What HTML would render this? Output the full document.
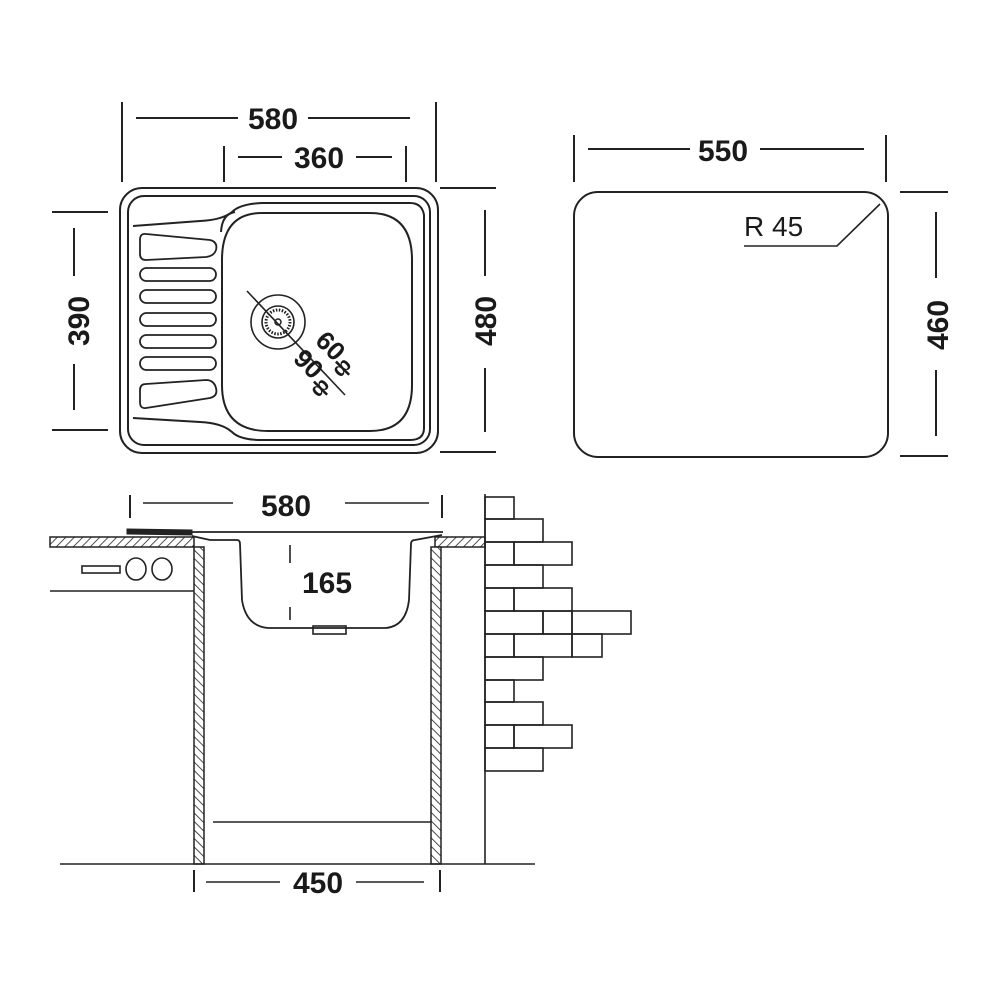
<!DOCTYPE html>
<html><head><meta charset="utf-8"><style>
html,body{margin:0;padding:0;background:#fff}
svg{display:block}
text{font-family:"Liberation Sans",sans-serif;font-weight:bold;fill:#1a1a1a}
</style></head><body>
<svg width="1000" height="1000" viewBox="0 0 1000 1000" xmlns="http://www.w3.org/2000/svg">
<defs>
<pattern id="h1" width="6" height="6" patternUnits="userSpaceOnUse" patternTransform="rotate(45)">
<rect width="6" height="6" fill="#fff"/><line x1="0" y1="0" x2="0" y2="6" stroke="#222" stroke-width="1.6"/></pattern>
<pattern id="h2" width="6" height="6" patternUnits="userSpaceOnUse" patternTransform="rotate(-45)">
<rect width="6" height="6" fill="#fff"/><line x1="0" y1="0" x2="0" y2="6" stroke="#222" stroke-width="1.6"/></pattern>
</defs>
<g stroke="#222" fill="none" stroke-width="2">
<!-- top dims -->
<line x1="122" y1="102" x2="122" y2="182"/><line x1="436" y1="102" x2="436" y2="182"/>
<line x1="136" y1="118" x2="238" y2="118"/><line x1="308" y1="118" x2="410" y2="118"/>
<line x1="224" y1="146" x2="224" y2="182"/><line x1="406" y1="146" x2="406" y2="182"/>
<line x1="238" y1="157" x2="282" y2="157"/><line x1="356" y1="157" x2="392" y2="157"/>
<line x1="52" y1="212" x2="108" y2="212"/><line x1="52" y1="430" x2="108" y2="430"/>
<line x1="74" y1="228" x2="74" y2="276"/><line x1="74" y1="364" x2="74" y2="410"/>
<line x1="440" y1="188" x2="496" y2="188"/><line x1="440" y1="452" x2="496" y2="452"/>
<line x1="485" y1="210" x2="485" y2="276"/><line x1="485" y1="368" x2="485" y2="432"/>
<!-- sink top view -->
<rect x="120" y="188" width="318" height="265" rx="22"/>
<rect x="128" y="196" width="302" height="249" rx="16"/>
<path d="M133 226 L200 221 Q222 220 232 212 Q240 204 262 203 L410 203 Q422 203 424 215 L424 428 Q424 440 410 440 L262 440 Q240 440 232 432 Q222 423 200 422 L133 418"/>
<path d="M235 212 Q222 214 221 232"/>
<path d="M262 213 L370 213 Q412 213 412 260 L412 385 Q412 431 370 431 L268 431 Q222 431 222 385 L222 260 Q222 213 262 213 Z"/>
<path d="M146 234 L210 240 Q218 242 216 250 Q214 256 206 257 L146 260 Q140 260 140 254 L140 240 Q140 233 146 234 Z" stroke-width="1.8"/>
<rect x="140" y="268" width="76" height="13" rx="6.5" stroke-width="1.8"/>
<rect x="140" y="290" width="76" height="13" rx="6.5" stroke-width="1.8"/>
<rect x="140" y="313" width="76" height="13" rx="6.5" stroke-width="1.8"/>
<rect x="140" y="335" width="76" height="13" rx="6.5" stroke-width="1.8"/>
<rect x="140" y="357" width="76" height="13" rx="6.5" stroke-width="1.8"/>
<path d="M146 384 L206 380 Q214 380 216 388 Q218 396 210 398 L146 408 Q140 409 140 402 L140 390 Q140 384 146 384 Z" stroke-width="1.8"/>
<circle cx="278" cy="322" r="27" stroke-width="1.6"/>
<circle cx="278" cy="322" r="16" stroke-width="1.6"/>
<circle cx="278" cy="322" r="12" stroke-width="3" stroke-dasharray="1.5 1.5"/>
<circle cx="278" cy="322" r="3" stroke-width="1.5"/>
<line x1="247" y1="291" x2="345" y2="395" stroke-width="1.6"/>
<!-- right plan -->
<rect x="574" y="192" width="314" height="265" rx="24"/>
<line x1="574" y1="135" x2="574" y2="182"/><line x1="886" y1="135" x2="886" y2="182"/>
<line x1="588" y1="149" x2="690" y2="149"/><line x1="760" y1="149" x2="864" y2="149"/>
<line x1="900" y1="192" x2="948" y2="192"/><line x1="900" y1="456" x2="948" y2="456"/>
<line x1="936" y1="212" x2="936" y2="278"/><line x1="936" y1="370" x2="936" y2="436"/>
<path d="M744 246 L837 246 L880 204" stroke-width="1.6"/>
<!-- side view -->
<line x1="130" y1="495" x2="130" y2="518"/><line x1="442" y1="495" x2="442" y2="518"/>
<line x1="143" y1="503" x2="233" y2="503" stroke-width="1.6"/><line x1="345" y1="503" x2="429" y2="503" stroke-width="1.6"/>
<rect x="50" y="537" width="144" height="10" fill="url(#h1)" stroke-width="1.5"/>
<rect x="435" y="537" width="50" height="10" fill="url(#h1)" stroke-width="1.5"/>
<line x1="127" y1="532" x2="443" y2="532" stroke-width="1.8"/>
<path d="M127 529 L192 530 L192 535 L127 534 Z" fill="#222" stroke-width="1"/>
<path d="M192 536 L210 540 L237 540 Q240 540 240 544 L242 600 Q246 626 268 628 L386 628 Q406 626 409 600 L411 544 Q411 540 415 540 L442 535" stroke-width="1.8"/>
<rect x="313" y="626" width="33" height="8" stroke-width="1.6"/>
<line x1="290" y1="545" x2="290" y2="563" stroke-width="1.6"/><line x1="290" y1="607" x2="290" y2="620" stroke-width="1.6"/>
<rect x="194" y="547" width="10" height="317" fill="url(#h2)" stroke-width="1.5"/>
<rect x="431" y="547" width="10" height="317" fill="url(#h2)" stroke-width="1.5"/>
<line x1="50" y1="591" x2="194" y2="591" stroke-width="1.6"/>
<rect x="82" y="566" width="38" height="7" stroke-width="1.6"/>
<ellipse cx="136" cy="569" rx="10" ry="11" stroke-width="1.6"/>
<ellipse cx="162" cy="569" rx="10" ry="11" stroke-width="1.6"/>
<line x1="213" y1="822" x2="431" y2="822" stroke-width="1.6"/>
<line x1="60" y1="864" x2="535" y2="864" stroke-width="1.6"/>
<line x1="194" y1="870" x2="194" y2="892"/><line x1="440" y1="870" x2="440" y2="892"/>
<line x1="206" y1="882" x2="280" y2="882" stroke-width="1.6"/><line x1="356" y1="882" x2="424" y2="882" stroke-width="1.6"/>
<!-- wall -->
<line x1="485" y1="494" x2="485" y2="864" stroke-width="1.6"/>
<g stroke-width="1.6">
<rect x="485" y="497" width="29" height="22"/>
<rect x="485" y="519" width="58" height="23"/>
<rect x="485" y="542" width="29" height="23"/><rect x="514" y="542" width="58" height="23"/>
<rect x="485" y="565" width="58" height="23"/>
<rect x="485" y="588" width="29" height="23"/><rect x="514" y="588" width="58" height="23"/>
<rect x="485" y="611" width="58" height="23"/><rect x="543" y="611" width="29" height="23"/><rect x="572" y="611" width="59" height="23"/>
<rect x="485" y="634" width="29" height="23"/><rect x="514" y="634" width="58" height="23"/><rect x="572" y="634" width="30" height="23"/>
<rect x="485" y="657" width="58" height="23"/>
<rect x="485" y="680" width="29" height="22"/>
<rect x="485" y="702" width="58" height="23"/>
<rect x="485" y="725" width="29" height="23"/><rect x="514" y="725" width="58" height="23"/>
<rect x="485" y="748" width="58" height="23"/>
</g>
</g>
<g font-size="30">
<text x="273" y="129" text-anchor="middle">580</text>
<text x="319" y="168" text-anchor="middle">360</text>
<text x="723" y="161" text-anchor="middle">550</text>
<text x="286" y="516" text-anchor="middle">580</text>
<text x="327" y="593" text-anchor="middle">165</text>
<text x="318" y="893" text-anchor="middle">450</text>
<text transform="translate(89,321) rotate(-90)" text-anchor="middle">390</text>
<text transform="translate(496,321) rotate(-90)" text-anchor="middle">480</text>
<text transform="translate(948,325) rotate(-90)" text-anchor="middle">460</text>
</g>
<text x="744" y="236" font-size="28" style="font-weight:normal">R 45</text>
<g font-size="26" style="font-weight:normal">
<text transform="translate(314,342) rotate(45)">60</text>
<text transform="translate(292,360) rotate(45)">90</text>
<text transform="translate(340,378) rotate(-45)" font-size="20">ф</text>
<text transform="translate(318,398) rotate(-45)" font-size="20">ф</text>
</g>
</svg>
</body></html>
